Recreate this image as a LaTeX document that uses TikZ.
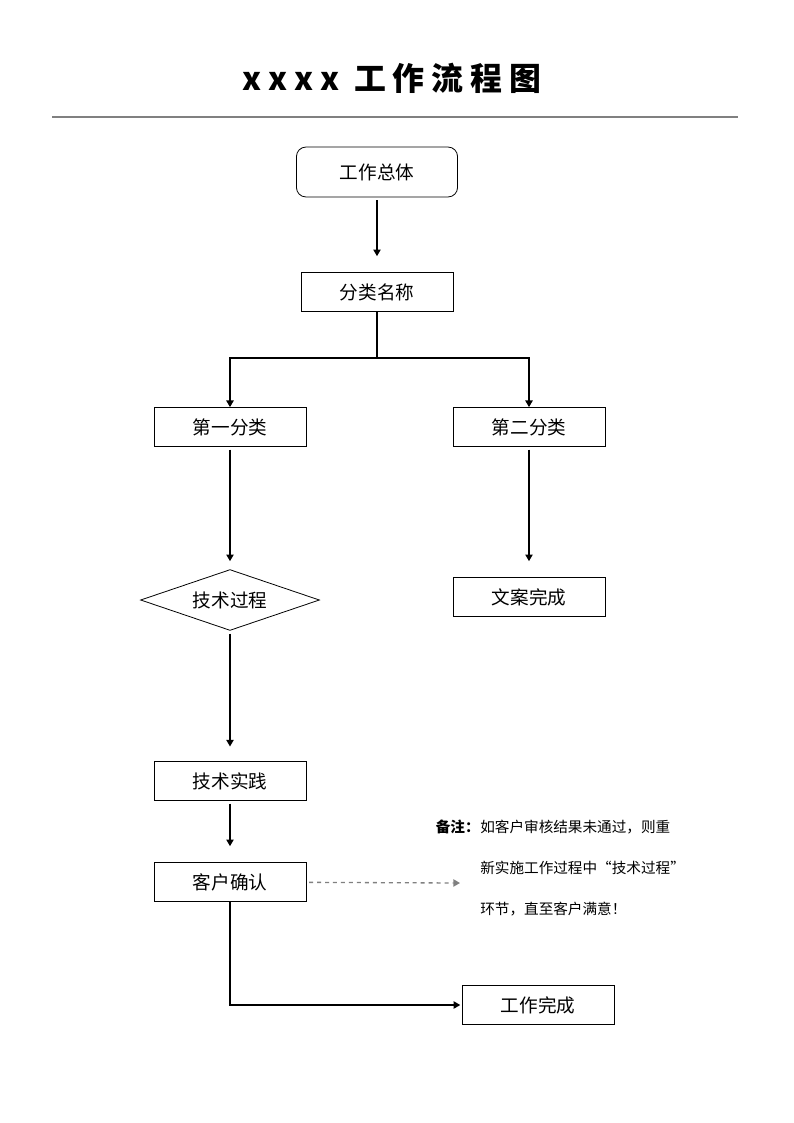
\documentclass[tikz,border=0pt]{standalone}
\usepackage{fontspec}
\setmainfont{Noto Sans CJK SC}
\usetikzlibrary{shapes.geometric, arrows.meta}

\tikzstyle{element}=[rectangle, draw, line width=0.6pt,
                     minimum width=4.02cm, minimum height=1.03cm,
                     inner sep=0.1cm, font=\fontsize{14}{16}\selectfont]
\tikzstyle{startbox}=[element, rounded corners=0.25cm,
                      minimum width=4.26cm, minimum height=1.32cm]
\tikzstyle{decision}=[diamond, draw, line width=0.6pt, aspect=2.93,
                      minimum width=4.73cm, minimum height=1.61cm,
                      inner sep=0pt, font=\fontsize{14}{16}\selectfont]
\tikzstyle{flow}=[-{Triangle[length=5pt, width=5.5pt]}, line width=1pt]

\begin{document}
\begin{tikzpicture}[x=0.02645cm, y=-0.02645cm]
\useasboundingbox (0,0) rectangle (794,1123);

%%%%%%%%%%%%%%%%%%
%%%%%%%%%%%%%%%%%%
\node (Title) at (392,78) {\fontsize{24}{28}\selectfont\bfseries\addfontfeatures{LetterSpace=22}xxxx 工作流程图};

\draw [line width=1.5pt, color=black!50] (52,117) -- (738,117);

%%%%%%%%%%%%%%%%%%
\node (Overall) at (377,172) [startbox] {工作总体};

\node (Category) at (377,292) [element] {分类名称};

\coordinate (Branch) at (377,358);

%%%%%%%%%%%%%%%%%%
\node (First_Category) at (230,427) [element] {第一分类};

\node (Second_Category) at (529,427) [element] {第二分类};

%%%%%%%%%%%%%%%%%%
\node (Tech_Process) at (230,600) [decision] {技术过程};

\node (Copy_Done) at (529,597) [element] {文案完成};

\node (Tech_Practice) at (230,781) [element] {技术实践};

\node (Confirm) at (230,882) [element] {客户确认};

\node (Work_Done) at (538,1005) [element] {工作完成};

%%%%%%%%%%%%%%%%%%
\node (Note_Label) at (480,827) [anchor=east, inner sep=0pt, font=\fontsize{11}{13}\selectfont\bfseries] {备注：};

\node (Note_Text) at (480,827) [anchor=north west, yshift=0.2cm, inner sep=0pt, align=left,
      font=\fontsize{11}{30.8}\selectfont] {如客户审核结果未通过，则重\\新实施工作过程中“技术过程”\\环节，直至客户满意！};

\coordinate (Note_Arrow) at (460,883);

%%%%%%%%%%%%%%%%%%%%
%%%%%%%%%%%%%%%%%%%%
\draw [flow, shorten <=2pt, shorten >=12pt] (Overall) to (Category);

\draw [line width=1pt] (Category) to (Branch);

\draw [flow] (Branch) -| (First_Category);

\draw [flow] (Branch) -| (Second_Category);

%%%%%%%%%%%%%%%%%%%%
\draw [flow, shorten <=2pt, shorten >=6pt] (First_Category) to (Tech_Process);

\draw [flow, shorten <=2pt, shorten >=12pt] (Second_Category) to (Copy_Done);

\draw [flow, shorten <=2pt, shorten >=11pt] (Tech_Process) to (Tech_Practice);

\draw [flow, shorten <=2pt, shorten >=12pt] (Tech_Practice) to (Confirm);

%%%%%%%%%%%%%%%%%%%%
\draw [-{Triangle[length=5pt, width=5.5pt]}, line width=1pt, color=black!50, dashed, shorten <=2pt] (Confirm) to (Note_Arrow);

\draw [flow, shorten >=1pt] (Confirm) |- (Work_Done);

\end{tikzpicture}
\end{document}
